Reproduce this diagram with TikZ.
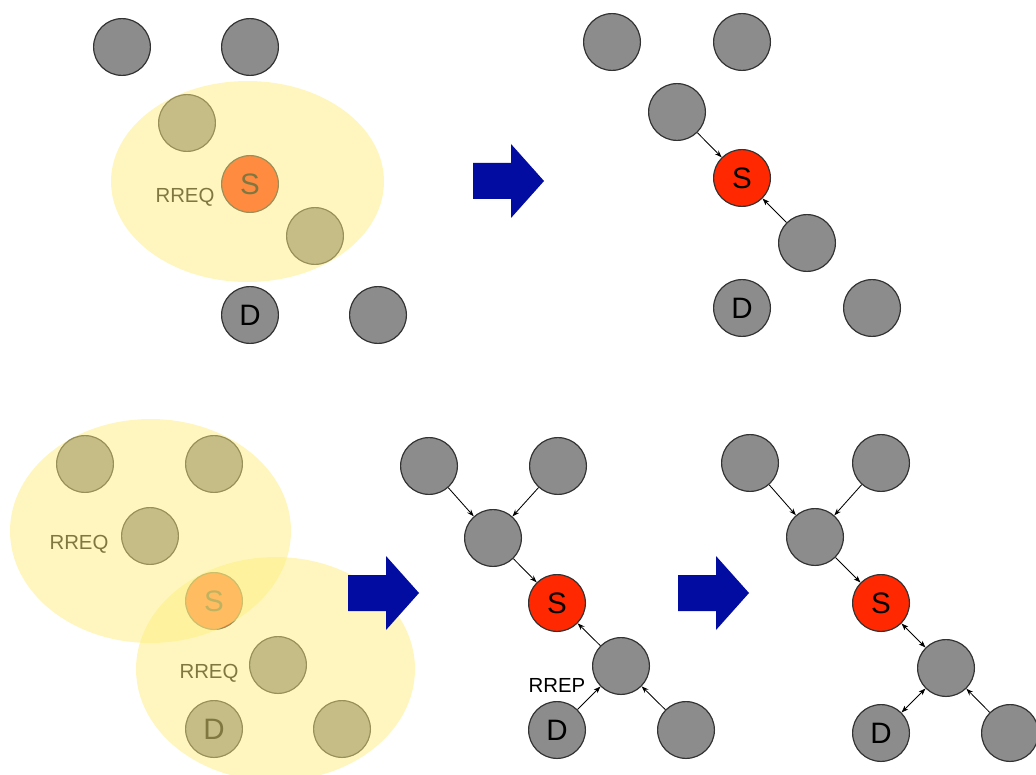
\documentclass[tikz,border=0pt]{standalone}
\usepackage{fontspec}
\setmainfont{Liberation Sans}
\usetikzlibrary{arrows.meta}

\definecolor{nodegray}{RGB}{140,140,140}
\definecolor{sred}{RGB}{255,40,0}
\definecolor{rangeyellow}{RGB}{255,238,128}
\definecolor{arrowblue}{RGB}{2,12,160}

\begin{document}
\begin{tikzpicture}[%
    x=0.025cm, y=-0.025cm,
    >={Stealth[length=5pt,width=3.6pt]},
    host/.style={circle, draw=black!80, fill=nodegray, line width=0.85pt,
      minimum size=1.42cm, inner sep=0pt, font=\fontsize{21}{21}\selectfont},
    source/.style={host, fill=sred},
    link/.style={->, line width=0.6pt},
    biglink/.style={<->, line width=0.6pt},
    radiorange/.style={fill=rangeyellow, fill opacity=0.5},
    msg/.style={font=\fontsize{14.5}{14.5}\selectfont},
    bigarrow/.style={fill=arrowblue}
  ]
  \clip (0,0) rectangle (1036,774);

  % step 1: S broadcasts
  \node[host] at (122,47) (a1) {};
  \node[host] at (250,47) (a2) {};
  \node[host] at (187,123) (a3) {};
  \node[source] at (250,184) (aS) {S};
  \node[host] at (315,236) (a4) {};
  \node[host] at (250,315) (aD) {D};
  \node[host] at (378,315) (a5) {};
  \node[msg] at (185,197) (areq) {RREQ};
  \fill[radiorange] (247.5,181.5) ellipse [x radius=136.5, y radius=100.5];

  % step 2: reverse routes towards S
  \node[host] at (612,42) (b1) {};
  \node[host] at (742,42) (b2) {};
  \node[host] at (677,112) (b3) {};
  \node[source] at (742,178) (bS) {S};
  \node[host] at (807,243) (b4) {};
  \node[host] at (742,308) (bD) {D};
  \node[host] at (872,308) (b5) {};
  \draw[link] (b3) -- (bS);
  \draw[link] (b4) -- (bS);

  % step 3: flooding reaches D
  \node[host] at (85,464) (c1) {};
  \node[host] at (214,464) (c2) {};
  \node[host] at (150,536) (c3) {};
  \node[source] at (214,601) (cS) {S};
  \node[host] at (278,665) (c4) {};
  \node[host] at (214,729) (cD) {D};
  \node[host] at (342,729) (c5) {};
  \node[msg] at (79,544) (creq1) {RREQ};
  \node[msg] at (209,673) (creq2) {RREQ};
  \fill[radiorange] (150.5,531) ellipse [x radius=140.5, y radius=112];
  \fill[radiorange] (275.5,669) ellipse [x radius=139.5, y radius=112];

  % step 4: D answers
  \node[host] at (429,466) (d1) {};
  \node[host] at (558,466) (d2) {};
  \node[host] at (493,538) (d3) {};
  \node[source] at (557,603) (dS) {S};
  \node[host] at (621,666) (d4) {};
  \node[host] at (557,730) (dD) {D};
  \node[host] at (686,730) (d5) {};
  \node[msg] at (557,685) (drep) {RREP};
  \draw[link] (d1) -- (d3);
  \draw[link] (d2) -- (d3);
  \draw[link] (d3) -- (dS);
  \draw[link] (d4) -- (dS);
  \draw[link] (dD) -- (d4);
  \draw[link] (d5) -- (d4);

  % step 5: route S <-> D
  \node[host] at (750,463) (e1) {};
  \node[host] at (881,463) (e2) {};
  \node[host] at (815,537) (e3) {};
  \node[source] at (881,603) (eS) {S};
  \node[host] at (946,668) (e4) {};
  \node[host] at (881,733) (eD) {D};
  \node[host] at (1010,733) (e5) {};
  \draw[link] (e1) -- (e3);
  \draw[link] (e2) -- (e3);
  \draw[link] (e3) -- (eS);
  \draw[biglink] (eS) -- (e4);
  \draw[biglink] (e4) -- (eD);
  \draw[link] (e5) -- (e4);

  % big arrows between steps
  \foreach \x/\y in {473/181, 348/593, 678/593}
    \fill[bigarrow] (\x,\y-18) -- ++(38,0) -- ++(0,-19) -- (\x+71,\y)
      -- (\x+38,\y+37) -- ++(0,-19) -- (\x,\y+18) -- cycle;
\end{tikzpicture}
\end{document}
